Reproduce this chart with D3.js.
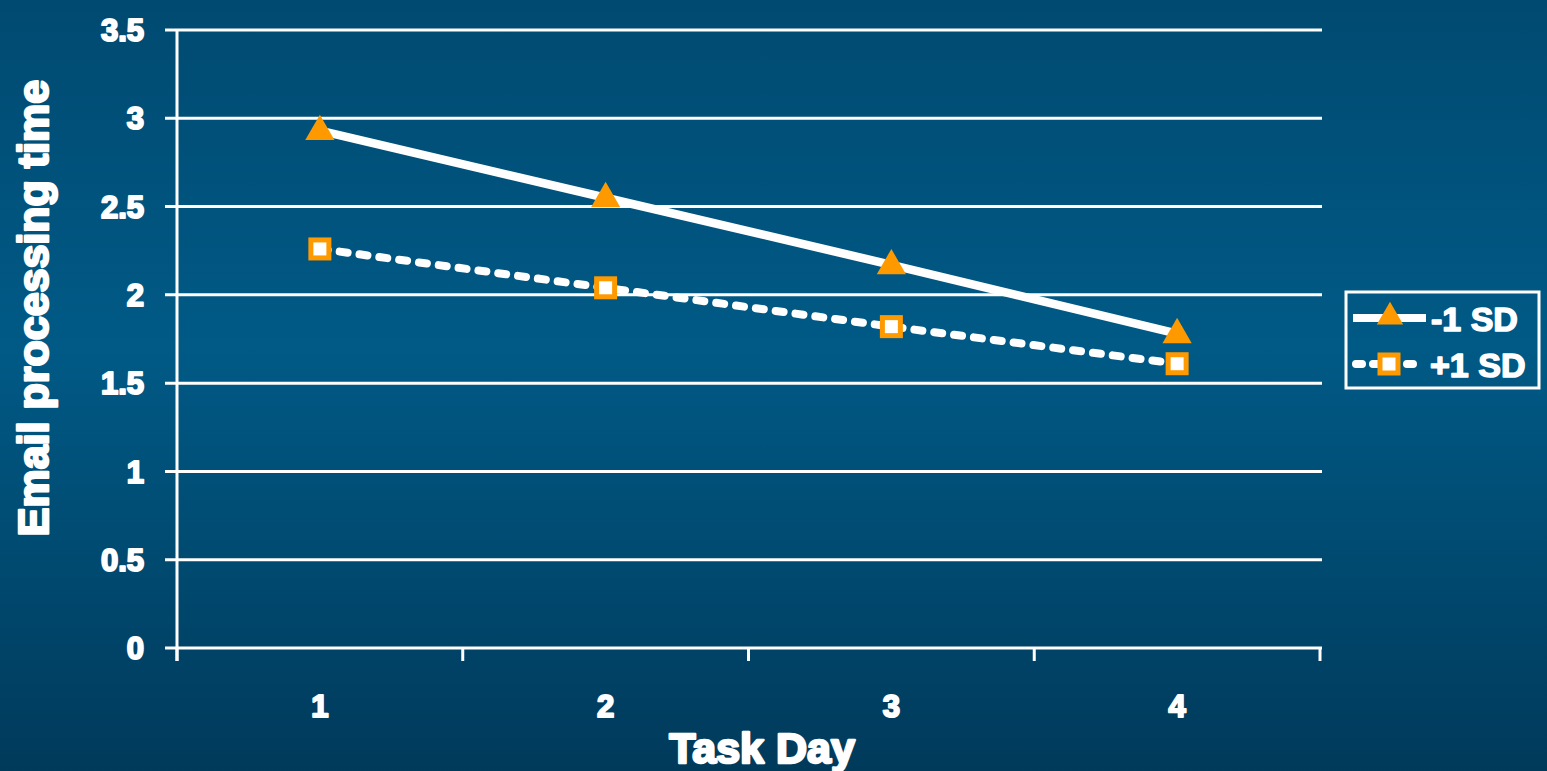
<!DOCTYPE html>
<html><head><meta charset="utf-8">
<script src="https://d3js.org/d3.v7.min.js"></script>
<style>html,body{margin:0;padding:0;overflow:hidden;background:#004f7a}</style>
</head><body>
<svg id="c" width="1547" height="771"></svg>
<script>
const categories = ["1","2","3","4"];
const minusSD = [2.93, 2.55, 2.17, 1.78];
const plusSD = [2.26, 2.04, 1.82, 1.61];
const yTicks = [0,0.5,1,1.5,2,2.5,3,3.5];
const seriesNames = ["-1 SD","+1 SD"];

(function(){
const svg = d3.select("#c");
const W=1547,H=771;
const defs = svg.append("defs");
const g = defs.append("linearGradient").attr("id","bg").attr("x1",0).attr("y1",0).attr("x2",0).attr("y2",1);
g.append("stop").attr("offset","0%").attr("stop-color","#004a71");
g.append("stop").attr("offset","45%").attr("stop-color","#005a86");
g.append("stop").attr("offset","100%").attr("stop-color","#003a5b");
svg.append("rect").attr("width",W).attr("height",H).attr("fill","url(#bg)");

const pLeft=177,pRight=1320,pTop=30,pBottom=648;
const x = d3.scaleBand().domain(categories).range([pLeft,pRight]);
const y = d3.scaleLinear().domain([0,3.5]).range([pBottom,pTop]);
const font = "'Liberation Sans', Arial, sans-serif";
const heavy = sel => sel.attr("fill","#fff").attr("stroke","#fff").attr("stroke-linejoin","round")
  .attr("font-family",font).attr("font-weight","bold");

svg.append("g").selectAll("line").data(yTicks).join("line")
  .attr("x1",pLeft-12).attr("x2",pRight+2)
  .attr("y1",d=>y(d)).attr("y2",d=>y(d))
  .attr("stroke","#fff").attr("stroke-width",3);
svg.append("line").attr("x1",pLeft).attr("x2",pLeft).attr("y1",pTop).attr("y2",pBottom+13)
  .attr("stroke","#fff").attr("stroke-width",3);
const xb = categories.map(c=>x(c)).concat([pRight]);
svg.append("g").selectAll("line").data(xb).join("line")
  .attr("x1",d=>d).attr("x2",d=>d).attr("y1",pBottom).attr("y2",pBottom+13)
  .attr("stroke","#fff").attr("stroke-width",3);

svg.append("g").selectAll("text").data(yTicks).join("text")
  .attr("x",144).attr("y",d=>y(d)).attr("dy","0.36em")
  .attr("text-anchor","end").call(heavy).attr("stroke-width",2).attr("font-size",31)
  .text(d=>d);
svg.append("g").selectAll("text").data(categories).join("text")
  .attr("x",d=>x(d)+x.bandwidth()/2).attr("y",717)
  .attr("text-anchor","middle").call(heavy).attr("stroke-width",2).attr("font-size",31)
  .text(d=>d);
svg.append("text").attr("x",762).attr("y",763).attr("text-anchor","middle")
  .call(heavy).attr("stroke-width",2.5).attr("font-size",43)
  .text("Task Day");
svg.append("text").attr("transform","translate(48,308) rotate(-90)").attr("text-anchor","middle")
  .call(heavy).attr("stroke-width",2.5).attr("font-size",43)
  .text("Email processing time");

const cx = d=>x(d)+x.bandwidth()/2;
const line = d3.line().x((d,i)=>cx(categories[i])).y(d=>y(d));
svg.append("path").datum(minusSD).attr("d",line).attr("fill","none")
  .attr("stroke","#fff").attr("stroke-width",8.5);
svg.append("path").datum(plusSD).attr("d",line).attr("fill","none")
  .attr("stroke","#fff").attr("stroke-width",8).attr("stroke-dasharray","8,12").attr("stroke-linecap","round");

const tri = d3.symbol().type(d3.symbolTriangle).size(370);
svg.append("g").selectAll("path").data(minusSD).join("path")
  .attr("transform",(d,i)=>`translate(${cx(categories[i])},${y(d)+1})`)
  .attr("d",tri).attr("fill","#ff9900");
svg.append("g").selectAll("rect").data(plusSD).join("rect")
  .attr("x",(d,i)=>cx(categories[i])-9).attr("y",d=>y(d)-9)
  .attr("width",18).attr("height",18)
  .attr("fill","#fff").attr("stroke","#ff9900").attr("stroke-width",5);

const lg = svg.append("g");
lg.append("rect").attr("x",1346).attr("y",292).attr("width",193).attr("height",96)
  .attr("fill","none").attr("stroke","#fff").attr("stroke-width",3);
const ly=[318,364];
lg.append("line").attr("x1",1353).attr("x2",1426).attr("y1",ly[0]).attr("y2",ly[0])
  .attr("stroke","#fff").attr("stroke-width",8);
lg.append("line").attr("x1",1356).attr("x2",1424).attr("y1",ly[1]).attr("y2",ly[1])
  .attr("stroke","#fff").attr("stroke-width",8).attr("stroke-dasharray","6,11").attr("stroke-linecap","round");
lg.append("path").attr("transform",`translate(1390,${ly[0]-1})`).attr("d",d3.symbol().type(d3.symbolTriangle).size(300)).attr("fill","#ff9900");
lg.append("rect").attr("x",1380).attr("y",ly[1]-9).attr("width",18).attr("height",18)
  .attr("fill","#fff").attr("stroke","#ff9900").attr("stroke-width",5);
lg.selectAll("text.l").data(seriesNames).join("text").attr("class","l")
  .attr("x",(d,i)=>i===0?1431:1430).attr("y",(d,i)=>ly[i]+1).attr("dy","0.36em")
  .call(heavy).attr("stroke-width",1.5).attr("font-size",34)
  .text(d=>d);
})();
</script>
</body></html>
